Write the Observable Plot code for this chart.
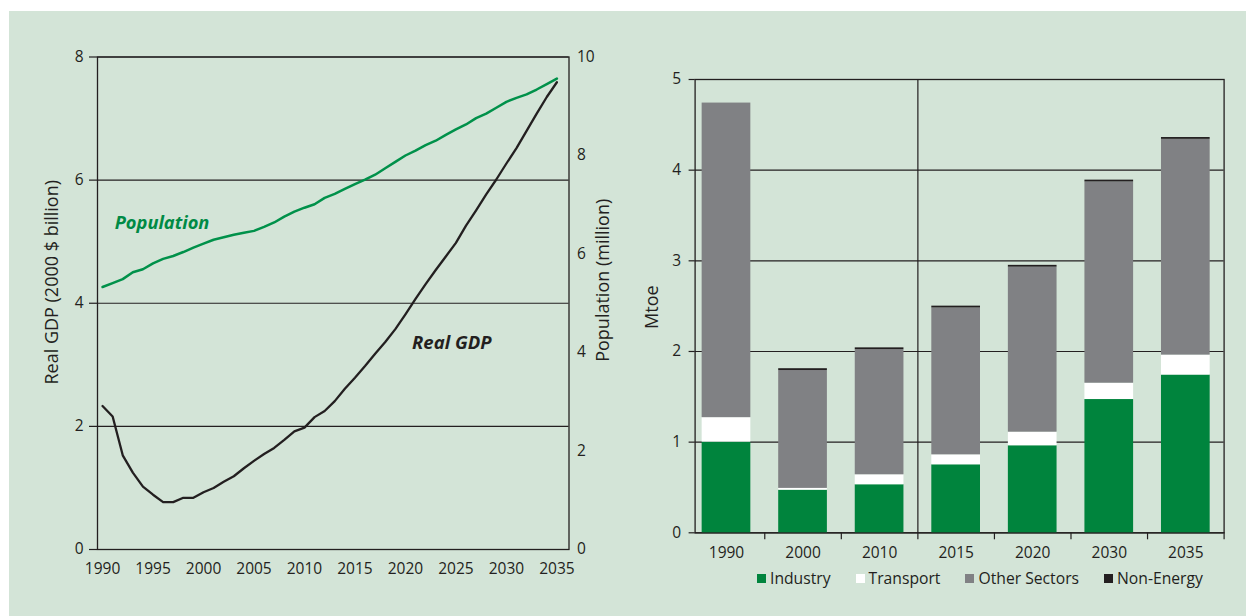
<!DOCTYPE html>
<html><head><meta charset="utf-8">
<script src="https://cdn.jsdelivr.net/npm/d3@7"></script>
<script src="https://cdn.jsdelivr.net/npm/@observablehq/plot@0.6"></script>
<style>
body{margin:0;background:#fff;width:1246px;height:616px;overflow:hidden;position:relative;font-family:"Open Sans",sans-serif;}
#bg{position:absolute;left:9px;top:11px;width:1237px;height:605px;background:#d3e4d7;}
#left,#right{position:absolute;top:0;}
#left{left:0px}
#right{left:620px}
#legend{position:absolute;left:757px;top:568px;display:flex;align-items:center;height:21px;font-size:15.7px;color:#231f20;line-height:21px;}
#legend .item{display:flex;align-items:center;margin-right:25px;}
#legend .sw{width:9px;height:9px;margin-right:4px;}
</style></head><body>
<div id="bg"></div><div id="left"></div><div id="right"></div><div id="legend"></div>
<script>
// ---------- Left chart data ----------
const years = [1990,1991,1992,1993,1994,1995,1996,1997,1998,1999,
               2000,2001,2002,2003,2004,2005,2006,2007,2008,2009,
               2010,2011,2012,2013,2014,2015,2016,2017,2018,2019,
               2020,2021,2022,2023,2024,2025,2026,2027,2028,2029,
               2030,2031,2032,2033,2034,2035];
const realGDP = [2.33,2.16,1.53,1.25,1.02,0.89,0.77,0.77,0.84,0.84,
                 0.93,1.00,1.10,1.19,1.32,1.44,1.55,1.65,1.78,1.92,
                 1.98,2.15,2.25,2.41,2.61,2.79,2.98,3.18,3.37,3.58,
                 3.82,4.07,4.31,4.54,4.76,4.98,5.26,5.51,5.77,6.01,
                 6.27,6.52,6.80,7.08,7.35,7.59];
const population = [5.33,5.41,5.49,5.63,5.69,5.81,5.90,5.96,6.04,6.13,
                    6.21,6.29,6.34,6.39,6.43,6.47,6.55,6.64,6.76,6.86,
                    6.94,7.01,7.14,7.22,7.32,7.42,7.51,7.61,7.74,7.87,
                    8.00,8.10,8.21,8.30,8.42,8.53,8.63,8.76,8.85,8.97,
                    9.09,9.17,9.24,9.34,9.45,9.56];
const gdpTicks = [0,2,4,6,8];
const popTicks = [0,2,4,6,8,10];
const yearTicks = [1990,1995,2000,2005,2010,2015,2020,2025,2030,2035];
const gdpMax = 8, popMax = 10;

// ---------- Right chart data ----------
const periods = ["1990","2000","2010","2015","2020","2030","2035"];
const sectors = ["Industry","Transport","Other Sectors","Non-Energy"];
const sectorColors = ["#00843d","#ffffff","#808184","#231f20"];
const industry  = [1.00,0.47,0.53,0.75,0.96,1.47,1.74];
const transport = [0.27,0.02,0.11,0.11,0.15,0.18,0.22];
const other     = [3.47,1.30,1.38,1.62,1.82,2.22,2.38];
const nonEnergy = [0.00,0.02,0.02,0.02,0.02,0.02,0.02];
const mtoeTicks = [0,1,2,3,4,5];

const ink = "#231f20";
const green = "#00914a";
const tickFont = "15.5px";

// ---------- Left chart ----------
const lineData = years.map((y,i)=>({year:y, gdp:realGDP[i], pop:population[i]}));
const left = Plot.plot({
  width: 620, height: 616,
  marginLeft: 97, marginRight: 51.5, marginTop: 56.5, marginBottom: 67,
  style: {background:"transparent", fontFamily:"Open Sans", fontSize:tickFont, color:ink, overflow:"visible"},
  x: {domain:[1989.5, 2036.2]},
  y: {domain:[0, gdpMax]},
  marks: [
    Plot.ruleY(gdpTicks, {stroke: ink, strokeWidth: 1.2}),
    Plot.frame({stroke: ink, strokeWidth: 1.3}),
    Plot.axisY({ticks: gdpTicks, tickSize: 8, tickPadding: 6, tickFormat: d=>String(d), label: null, strokeWidth: 1.2}),
    Plot.axisY({anchor:"right", ticks: popTicks.map(v=>v*gdpMax/popMax), tickFormat: v=>String(Math.round(v*popMax/gdpMax)), tickSize: 0, tickPadding: 8, label: null}),
    Plot.axisX({ticks: yearTicks, tickFormat: d=>String(d), tickSize: 0, tickPadding: 13, label: null}),
    Plot.text(["Real GDP (2000 $ billion)"], {frameAnchor:"left", textAnchor:"middle", dx:-45, dy:-21, rotate:-90, fontSize:18, fill:ink}),
    Plot.text(["Population (million)"], {frameAnchor:"right", textAnchor:"middle", dx:34.5, dy:-23, rotate:-90, fontSize:18, fill:ink}),
    Plot.line(lineData, {x:"year", y:"gdp", stroke: ink, strokeWidth: 2.3}),
    Plot.line(lineData, {x:"year", y: d=>d.pop*gdpMax/popMax, stroke: green, strokeWidth: 2.5}),
    Plot.text(["Population"], {x: 1991.2, y: 5.30, text: d=>d, textAnchor:"start", fill:"#008a45", fontSize:18.3, fontWeight:"bold", fontStyle:"italic"}),
    Plot.text(["Real GDP"], {x: 2020.66, y: 3.35, text: d=>d, textAnchor:"start", fill:ink, fontSize:18.5, fontWeight:"bold", fontStyle:"italic"})
  ]
});
document.getElementById("left").appendChild(left);

// ---------- Right chart ----------
const seriesBySector = [industry, transport, other, nonEnergy];
const table = [];
periods.forEach((p,i)=>{
  sectors.forEach((s,k)=>{ table.push({i, period:p, sector:s, value: seriesBySector[k][i]}); });
});
const halfBar = 0.318;
const divider = periods.indexOf("2015") - 0.5;
const right = Plot.plot({
  width: 626, height: 616,
  marginLeft: 74.6, marginRight: 22.4, marginTop: 79, marginBottom: 83.7,
  style: {background:"transparent", fontFamily:"Open Sans", fontSize:tickFont, color:ink, overflow:"visible"},
  x: {domain:[-0.41, periods.length - 0.5]},
  y: {domain:[0, 5]},
  color: {domain: sectors, range: sectorColors},
  marks: [
    Plot.ruleY(mtoeTicks, {stroke: ink, strokeWidth: 1.2}),
    Plot.ruleX([divider], {stroke: ink, strokeWidth: 1.2}),
    Plot.frame({stroke: ink, strokeWidth: 1.3}),
    Plot.rectY(table, Plot.stackY({x1: d=>d.i - halfBar, x2: d=>d.i + halfBar, y:"value", fill:"sector", order: sectors})),
    Plot.axisY({ticks: mtoeTicks, tickSize: 6, tickPadding: 8, tickFormat: d=>String(d), label: null, strokeWidth: 1.2}),
    Plot.axisX({ticks: d3.range(periods.length).map(i=>i+0.5), tickFormat: ()=>"", tickSize: 7, strokeWidth: 1.2, label: null}),
    Plot.axisX({ticks: d3.range(periods.length), tickFormat: i=>periods[i], tickSize: 0, tickPadding: 14, label: null}),
    Plot.text(["Mtoe"], {frameAnchor:"left", textAnchor:"middle", dx:-42.6, dy:1, rotate:-90, fontSize:18, fill:ink})
  ]
});
document.getElementById("right").appendChild(right);

// ---------- Legend ----------
const lg = document.getElementById("legend");
sectors.forEach((s,k)=>{
  const it = document.createElement("div"); it.className="item";
  const sw = document.createElement("div"); sw.className="sw"; sw.style.background = sectorColors[k];
  const tx = document.createElement("span"); tx.textContent = s;
  it.appendChild(sw); it.appendChild(tx); lg.appendChild(it);
});
</script>
</body></html>
